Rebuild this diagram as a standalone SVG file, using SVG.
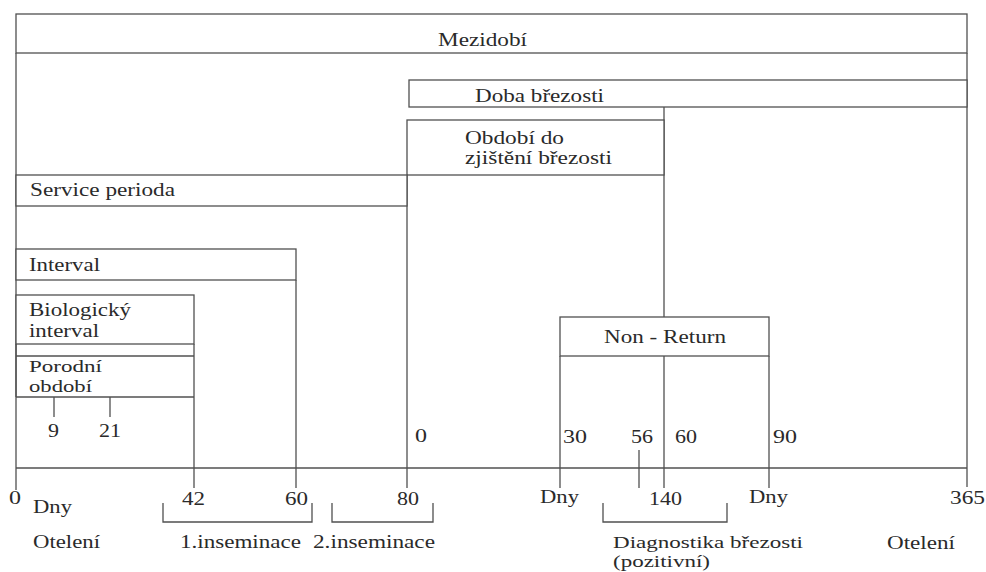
<svg xmlns="http://www.w3.org/2000/svg" width="986" height="572" viewBox="0 0 986 572">
<style>
.b{fill:#fff;stroke:#505050;stroke-width:1.3}
.l{fill:none;stroke:#505050;stroke-width:1.3}
text{font-family:'Liberation Serif',serif;font-size:19px;fill:#2a2a2a}
.s{font-size:17.5px}
</style>
<rect width="986" height="572" fill="#fff"/>
<g id="connectors">
<line class="l" x1="16" y1="53" x2="16" y2="490"/>
<line class="l" x1="967" y1="53" x2="967" y2="487"/>
<line class="l" x1="664" y1="107" x2="664" y2="317"/>
<line class="l" x1="664" y1="356" x2="664" y2="488"/>
<line class="l" x1="407" y1="175" x2="407" y2="488"/>
<line class="l" x1="296" y1="280" x2="296" y2="488"/>
<line class="l" x1="194" y1="397" x2="194" y2="488"/>
<line class="l" x1="560" y1="356" x2="560" y2="488"/>
<line class="l" x1="769" y1="356" x2="769" y2="488"/>
<line class="l" x1="639" y1="450" x2="639" y2="488"/>
<line class="l" x1="54" y1="397" x2="54" y2="417"/>
<line class="l" x1="110" y1="397" x2="110" y2="417"/>
<line class="l" x1="16" y1="468" x2="967" y2="468"/>
<path class="l" d="M163,503V522H312V503"/>
<path class="l" d="M332,503V522H433V503"/>
<path class="l" d="M603,503V522H727V503"/>
</g>
<g id="mezidobi">
<rect class="b" x="16" y="14" width="951" height="39"/>
<text x="438" y="46" textLength="89" lengthAdjust="spacingAndGlyphs">Mezidobí</text>
</g>
<g id="doba-brezosti">
<rect class="b" x="409" y="80" width="558" height="27"/>
<text x="475" y="102" textLength="129" lengthAdjust="spacingAndGlyphs">Doba březosti</text>
</g>
<g id="obdobi-do-zjisteni-brezosti">
<rect class="b" x="407" y="120" width="257" height="55"/>
<text x="465" y="144" textLength="99" lengthAdjust="spacingAndGlyphs">Období do</text>
<text x="465" y="164" textLength="147" lengthAdjust="spacingAndGlyphs">zjištění březosti</text>
</g>
<g id="service-perioda">
<rect class="b" x="16" y="175" width="391" height="31"/>
<text x="30" y="196" textLength="145" lengthAdjust="spacingAndGlyphs">Service perioda</text>
</g>
<g id="interval">
<rect class="b" x="16" y="249" width="280" height="31"/>
<text x="29" y="271" textLength="71" lengthAdjust="spacingAndGlyphs">Interval</text>
</g>
<g id="biologicky-interval">
<rect class="b" x="16" y="295" width="178" height="49"/>
<text x="29" y="316" textLength="102" lengthAdjust="spacingAndGlyphs">Biologický</text>
<text x="29" y="337" textLength="70" lengthAdjust="spacingAndGlyphs">interval</text>
</g>
<g id="porodni-obdobi">
<line class="l" x1="16" y1="344" x2="16" y2="397"/>
<line class="l" x1="194" y1="344" x2="194" y2="397"/>
<line class="l" x1="16" y1="356" x2="194" y2="356"/>
<line class="l" x1="16" y1="397" x2="194" y2="397"/>
<text class="s" x="29" y="372" textLength="73" lengthAdjust="spacingAndGlyphs">Porodní</text>
<text class="s" x="29" y="392" textLength="63" lengthAdjust="spacingAndGlyphs">období</text>
</g>
<g id="non-return">
<rect class="b" x="560" y="317" width="209" height="39"/>
<text x="604" y="343" textLength="122" lengthAdjust="spacingAndGlyphs">Non - Return</text>
</g>
<g id="labels">
<text x="48" y="437" textLength="11" lengthAdjust="spacingAndGlyphs">9</text>
<text x="99" y="437" textLength="22" lengthAdjust="spacingAndGlyphs">21</text>
<text x="415" y="442" textLength="12" lengthAdjust="spacingAndGlyphs">0</text>
<text x="563" y="443" textLength="24" lengthAdjust="spacingAndGlyphs">30</text>
<text x="631" y="443" textLength="22" lengthAdjust="spacingAndGlyphs">56</text>
<text x="675" y="443" textLength="22" lengthAdjust="spacingAndGlyphs">60</text>
<text x="773" y="443" textLength="24" lengthAdjust="spacingAndGlyphs">90</text>
<text x="9" y="504" textLength="12" lengthAdjust="spacingAndGlyphs">0</text>
<text x="33" y="513" textLength="39" lengthAdjust="spacingAndGlyphs">Dny</text>
<text x="182" y="505" textLength="23" lengthAdjust="spacingAndGlyphs">42</text>
<text x="285" y="505" textLength="23" lengthAdjust="spacingAndGlyphs">60</text>
<text x="397" y="505" textLength="22" lengthAdjust="spacingAndGlyphs">80</text>
<text x="540" y="503" textLength="39" lengthAdjust="spacingAndGlyphs">Dny</text>
<text x="649" y="505" textLength="33" lengthAdjust="spacingAndGlyphs">140</text>
<text x="749" y="503" textLength="39" lengthAdjust="spacingAndGlyphs">Dny</text>
<text x="950" y="504" textLength="35" lengthAdjust="spacingAndGlyphs">365</text>
<text x="33" y="548" textLength="67" lengthAdjust="spacingAndGlyphs">Otelení</text>
<text x="180" y="548" textLength="121" lengthAdjust="spacingAndGlyphs">1.inseminace</text>
<text x="313" y="548" textLength="122" lengthAdjust="spacingAndGlyphs">2.inseminace</text>
<text class="s" x="613" y="548" textLength="190" lengthAdjust="spacingAndGlyphs">Diagnostika březosti</text>
<text class="s" x="613" y="567" textLength="97" lengthAdjust="spacingAndGlyphs">(pozitivní)</text>
<text x="887" y="549" textLength="68" lengthAdjust="spacingAndGlyphs">Otelení</text>
</g>
</svg>
